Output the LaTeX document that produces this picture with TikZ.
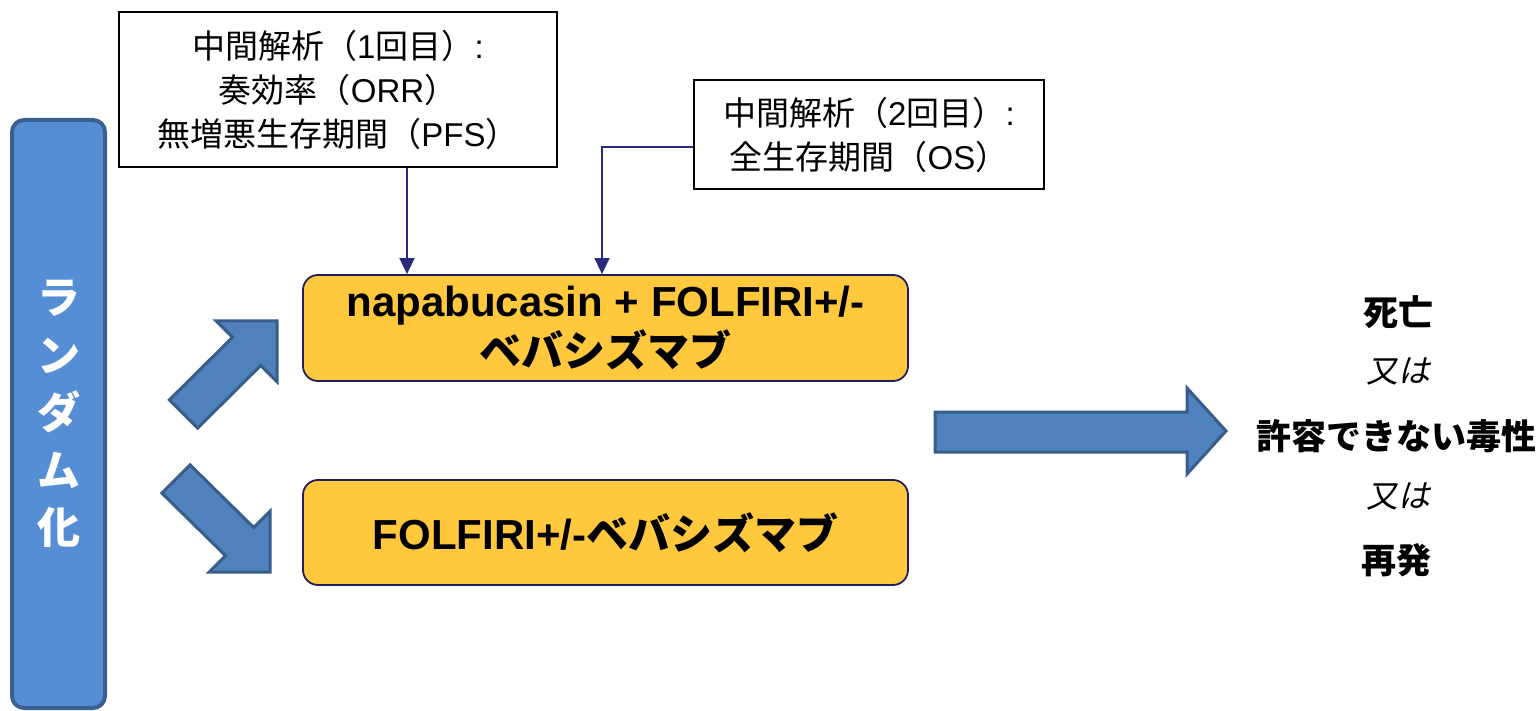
\documentclass[tikz,border=0pt]{standalone}
\usepackage{fontspec}
\setmainfont{Liberation Sans}
\newfontfamily\jp{Noto Sans CJK JP}
\newfontfamily\jpit{Noto Sans CJK JP}[FakeSlant=0.2]
\usetikzlibrary{arrows.meta}
\definecolor{randfill}{HTML}{558ED5}
\definecolor{randdraw}{HTML}{3A6090}
\definecolor{arrfill}{HTML}{4F81BD}
\definecolor{arrdraw}{HTML}{385D8A}
\definecolor{orfill}{HTML}{FFC83D}
\definecolor{ordraw}{HTML}{1F1F5C}
\definecolor{conncol}{HTML}{2A2A7C}
\begin{document}
\begin{tikzpicture}[x=1pt,y=-1pt,
  notebox/.style={draw=black, line width=2pt, fill=white, inner sep=0pt, align=center,
    font=\fontsize{33}{44}\selectfont},
  armbox/.style={draw=ordraw, line width=1.8pt, fill=orfill, rounded corners=15pt,
    inner sep=0pt, align=center, minimum width=605pt,
    font=\fontsize{42}{50}\selectfont\bfseries},
  randbox/.style={draw=randdraw, line width=4pt, fill=randfill, rounded corners=12pt,
    inner sep=0pt, minimum width=93pt, minimum height=588pt},
  randtext/.style={text=white, align=center, inner sep=0pt,
    font=\fontsize{43}{57.5}\selectfont\jp\bfseries},
  blockarrow/.style={fill=arrfill, draw=arrdraw, line width=3pt, line join=miter},
  conn/.style={draw=conncol, line width=1.5pt, -{Triangle[length=16pt,width=15pt]}},
  outcome/.style={inner sep=0pt, font=\fontsize{35}{42}\selectfont\jp\bfseries},
  ortext/.style={inner sep=0pt, font=\fontsize{32}{40}\selectfont\jpit}]
\useasboundingbox (0,0) rectangle (1540,711);

% randomisation column
\node[randbox] (rand) at (58.5,414) {};
\node[randtext] (randlbl) at (58.5,414) {ラ\\ン\\ダ\\ム\\化};

% interim analysis boxes
\node[notebox, minimum width=438pt, minimum height=155pt] (ia1) at (338,89.5)
  {{\jp 中間解析（}1{\jp 回目）}:\\{\jp 奏効率（}ORR{\jp ）}\\{\jp 無増悪生存期間（}PFS{\jp ）}};
\node[notebox, minimum width=350pt, minimum height=109pt] (ia2) at (869,134.5)
  {{\jp 中間解析（}2{\jp 回目）}:\\{\jp 全生存期間（}OS{\jp ）}};

% treatment arms
\node[armbox, minimum height=106pt] (arm1) at (605.5,328)
  {napabucasin + FOLFIRI+/-\\{\jp ベバシズマブ}};
\node[armbox, minimum height=105pt] (arm2) at (605.5,532.5)
  {FOLFIRI+/-{\jp ベバシズマブ}};

% connectors
\coordinate (c1) at (407,0);
\coordinate (c2) at (602,147);
\draw[conn] (ia1.south -| c1) -- (arm1.north -| c1);
\draw[conn] (ia2.west |- c2) -| (arm1.north -| c2);

% block arrows
\draw[blockarrow] (169.4,399.9) -- (232.5,337.3) -- (216.2,321) -- (277,321)
  -- (277,381.8) -- (260.7,365.5) -- (197.6,428.1) -- cycle;
\draw[blockarrow] (161.9,493.1) -- (225.5,555.7) -- (209.2,572) -- (270,572)
  -- (270,511.2) -- (253.7,527.5) -- (190.1,464.9) -- cycle;
\draw[blockarrow] (935,412) -- (1187,412) -- (1187,388) -- (1226,431)
  -- (1187,474) -- (1187,452) -- (935,452) -- cycle;

% outcomes
\node[outcome] (death) at (1398,312) {死亡};
\node[ortext] (or1) at (1398,372) {又は};
\node[outcome] (tox) at (1396,436) {許容できない毒性};
\node[ortext] (or2) at (1398,497) {又は};
\node[outcome] (rel) at (1396,560) {再発};
\end{tikzpicture}
\end{document}
